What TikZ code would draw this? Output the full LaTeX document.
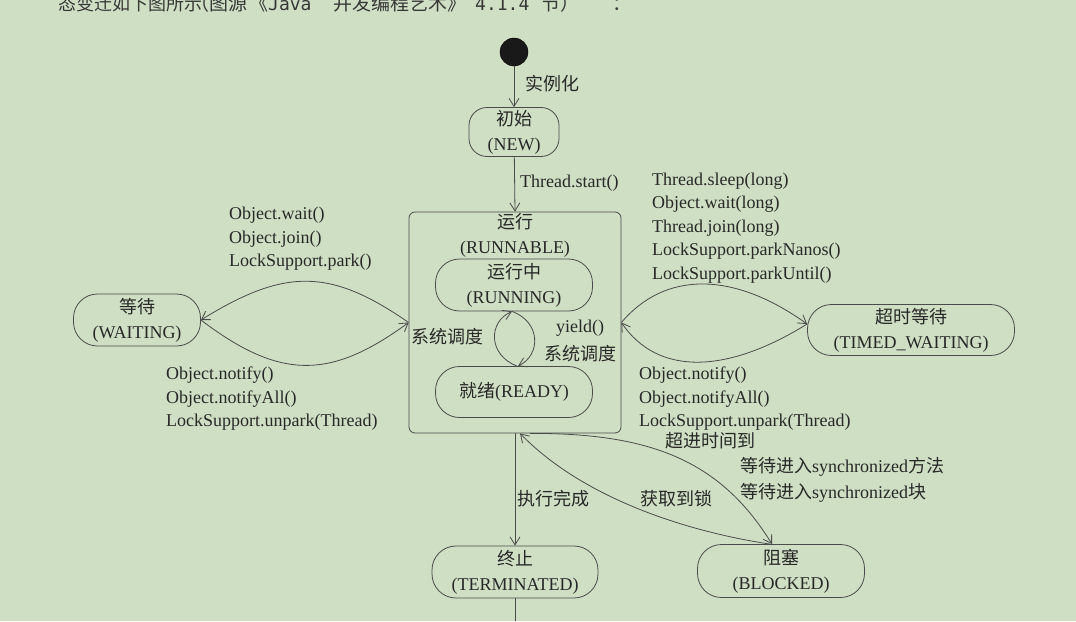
\documentclass[tikz,border=0pt]{standalone}
\usepackage{fontspec}
\setmainfont{Liberation Serif}
\newfontfamily\cjk{Noto Sans CJK SC}
\newfontfamily\hmono{DejaVu Sans Mono}
\usetikzlibrary{arrows.meta,calc}
\definecolor{bg}{RGB}{207,223,196}
\definecolor{ink}{RGB}{40,40,40}
\definecolor{linec}{RGB}{75,75,75}
\definecolor{topink}{RGB}{55,55,55}
\newcommand\lblfont{\fontsize{18}{23.5}\selectfont}
\newcommand\nodefont{\fontsize{18}{25}\selectfont}
\begin{document}
\begin{tikzpicture}[x=1pt,y=-1pt,
  pill/.style={draw=linec,line width=0.8pt,rounded corners=24pt,align=center,inner sep=0pt,text=ink,font=\nodefont},
  lbl/.style={text=ink,inner sep=0pt,align=left,font=\lblfont},
  headcjk/.style={anchor=base west,inner sep=0pt,text=topink,font=\cjk\fontsize{19}{19}\selectfont},
  headmono/.style={anchor=base west,inner sep=0pt,text=topink,font=\hmono\fontsize{18}{18}\selectfont},
  arr/.style={draw=linec,line width=0.8pt,-{Straight Barb[length=8pt,width=10pt]}},
  plainline/.style={draw=linec,line width=0.8pt}]
\useasboundingbox[fill=bg] (0,0) rectangle (1076,621);

% cut-off heading text
\node[headcjk,font=\cjk\fontsize{18}{18}\selectfont] (head1) at (58,10) {态变迁如下图所示};
\node[headcjk] (head2) at (190,10) {（图源};
\node[headcjk] (head3) at (249,10) {《};
\node[headmono] (head4) at (268,10) {Java};
\node[headcjk] (head5) at (333,10) {并发编程艺术》};
\node[headmono] (head6) at (475,10) {4.1.4};
\node[headcjk] (head7) at (541,10) {节）};
\node[headcjk] (head8) at (612,10) {：};

% nodes
\node[circle,fill=black!90,draw=black,minimum size=28pt,inner sep=0pt] (start) at (514,52) {};
\node[pill,rounded corners=18pt,minimum width=90pt,minimum height=49pt] (new) at (514,132) {{\cjk 初始}\\(NEW)};
\node[draw=linec,line width=0.8pt,rounded corners=6pt,minimum width=212pt,minimum height=221pt,inner sep=0pt] (runnable) at (515,322.5) {};
\node[lbl,align=center,font=\nodefont] (runtitle) at (515,235) {{\cjk 运行}\\(RUNNABLE)};
\node[pill,minimum width=157pt,minimum height=52pt] (running) at (514,285) {{\cjk 运行中}\\(RUNNING)};
\node[pill,minimum width=157pt,minimum height=51pt] (ready) at (514,392) {{\cjk 就绪}(READY)};
\node[pill,minimum width=127pt,minimum height=52pt] (waiting) at (137,320) {{\cjk 等待}\\(WAITING)};
\node[pill,minimum width=207pt,minimum height=51pt] (timed) at (911,330) {{\cjk 超时等待}\\(TIMED\_WAITING)};
\node[pill,minimum width=166pt,minimum height=52pt] (terminated) at (515,572) {{\cjk 终止}\\(TERMINATED)};
\node[pill,minimum width=167pt,minimum height=53pt] (blocked) at (781,571) {{\cjk 阻塞}\\(BLOCKED)};
\coordinate (bottomend) at (515,621);

% connectors
\draw[arr] (start) -- (new);
\draw[arr] (new) -- (runnable.north);
\draw[arr] (runnable.south) -- (terminated.north);
\draw[plainline] (terminated.south) -- (bottomend);

\draw[arr] (runnable.west) .. controls (330,268) and (285,268) .. (waiting.east);
\draw[arr] (waiting.east) .. controls (280,380) and (330,380) .. (runnable.west);

\draw[arr] (runnable.east) .. controls (665,271) and (733,271) .. ([yshift=6pt]timed.west);
\draw[arr] ([yshift=6pt]timed.west) .. controls (725,375) and (657,375) .. (runnable.east);

\draw[arr] ([xshift=3pt]ready.north) .. controls (488,355) and (488,322) .. ([xshift=-2pt]running.south);
\draw[arr] ([xshift=-2pt]running.south) .. controls (541,322) and (541,355) .. ([xshift=4pt]ready.north);

\draw[arr] ([xshift=15pt]runnable.south) .. controls (650,433) and (720,460) .. ([xshift=-9pt]blocked.north);
\draw[arr] ([xshift=-11pt]blocked.north) .. controls (690,532) and (585,500) .. ([xshift=5pt]runnable.south);

% labels
\node[lbl,anchor=west] (linst) at (525,84) {\cjk 实例化};
\node[lbl,anchor=west] (lstart) at (520,183) {Thread.start()};
\node[lbl,anchor=west] (lwait) at (229,239) {Object.wait()\\Object.join()\\LockSupport.park()};
\node[lbl,anchor=west] (lnotify) at (166,399) {Object.notify()\\Object.notifyAll()\\LockSupport.unpark(Thread)};
\node[lbl,anchor=west] (lsleep) at (652,228) {Thread.sleep(long)\\Object.wait(long)\\Thread.join(long)\\LockSupport.parkNanos()\\LockSupport.parkUntil()};
\node[lbl,anchor=west] (lnotify2) at (639,399) {Object.notify()\\Object.notifyAll()\\LockSupport.unpark(Thread)};
\node[lbl] (ltimeout) at (710,441) {\cjk 超进时间到};
\node[lbl,anchor=west,font=\fontsize{18}{26}\selectfont] (lsync) at (740,480) {{\cjk 等待进入}synchronized{\cjk 方法}\\{\cjk 等待进入}synchronized{\cjk 块}};
\node[lbl] (llock) at (676,499) {\cjk 获取到锁};
\node[lbl] (ldone) at (553,499) {\cjk 执行完成};
\node[lbl] (lsched1) at (447,337) {\cjk 系统调度};
\node[lbl] (lyield) at (580,328) {yield()};
\node[lbl] (lsched2) at (580,354) {\cjk 系统调度};
\end{tikzpicture}
\end{document}
